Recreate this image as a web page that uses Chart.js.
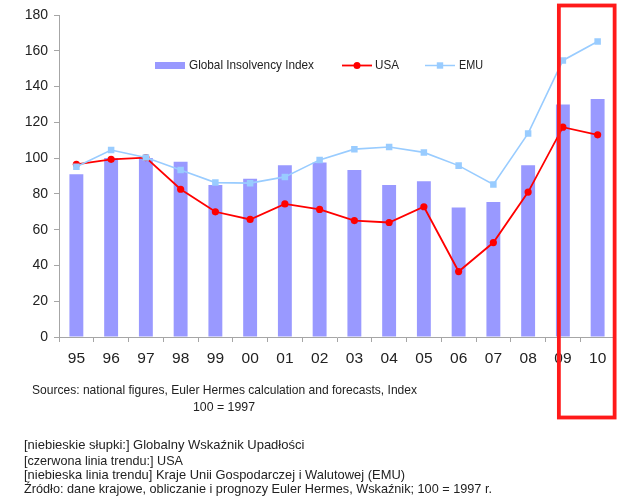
<!DOCTYPE html>
<html>
<head>
<meta charset="utf-8">
<script src="https://cdn.jsdelivr.net/npm/chart.js@4.4.1/dist/chart.umd.min.js"></script>
<style>
  html, body { margin: 0; padding: 0; background: #fff; }
  #wrap { width: 640px; height: 499px; position: relative; }
</style>
</head>
<body>
<div id="wrap"><canvas id="chart" width="640" height="499"></canvas></div>
<script>
// data
var years = ["95","96","97","98","99","00","01","02","03","04","05","06","07","08","09","10"];
var globalIndex = [91, 100, 100, 98, 85, 88.5, 96, 97.5, 93.3, 85, 87, 72.4, 75.5, 96, 130, 133];
var usa = [96.5, 99.3, 100.3, 82.6, 70, 65.7, 74.4, 71.3, 65.1, 64, 72.8, 36.6, 52.8, 81, 117.3, 113];
var emu = [95.2, 104.5, 100.3, 93.3, 86.3, 86, 89.5, 99, 105, 106.2, 103.2, 95.8, 85.3, 113.8, 154.6, 165.2];
var yTicks = [0, 20, 40, 60, 80, 100, 120, 140, 160, 180];

var seriesNames = ["Global Insolvency Index", "USA", "EMU"];
var sourceNote = ["Sources: national figures, Euler Hermes calculation and forecasts, Index", "100 = 1997"];
var polishNote = [
  "[niebieskie słupki:] Globalny Wskaźnik Upadłości",
  "[czerwona linia trendu:] USA",
  "[niebieska linia trendu] Kraje Unii Gospodarczej i Walutowej (EMU)",
  "Źródło: dane krajowe, obliczanie i prognozy Euler Hermes, Wskaźnik; 100 = 1997 r."
];

var barColor = "#9999ff";
var usaColor = "#ff0000";
var emuColor = "#99ccff";
var axisColor = "#a6a6a6";
var textColor = "#222";

// legend inside the plot + notes + red highlight box
var extras = {
  id: "extras",
  afterDraw: function(chart){
    var ctx = chart.ctx;
    var x = chart.scales.x;
    ctx.save();
    ctx.fillStyle = textColor;
    ctx.textBaseline = "middle";
    ctx.textAlign = "left";
    ctx.font = "13px 'Liberation Sans', Arial, sans-serif";

    // legend
    var ly = 65.5;
    ctx.fillStyle = barColor;
    ctx.fillRect(155, ly - 3.5, 30, 7);
    ctx.fillStyle = textColor;
    ctx.fillText(seriesNames[0], 189, ly, 125);

    ctx.strokeStyle = usaColor;
    ctx.lineWidth = 1.8;
    ctx.beginPath(); ctx.moveTo(342, ly); ctx.lineTo(372, ly); ctx.stroke();
    ctx.fillStyle = usaColor;
    ctx.beginPath(); ctx.arc(357, ly, 3.5, 0, Math.PI * 2); ctx.fill();
    ctx.fillStyle = textColor;
    ctx.fillText(seriesNames[1], 375, ly, 24);

    ctx.strokeStyle = emuColor;
    ctx.lineWidth = 1.5;
    ctx.beginPath(); ctx.moveTo(425, ly); ctx.lineTo(455, ly); ctx.stroke();
    ctx.fillStyle = emuColor;
    ctx.fillRect(440 - 3.2, ly - 3.2, 6.4, 6.4);
    ctx.fillStyle = textColor;
    ctx.fillText(seriesNames[2], 459, ly, 24);

    // notes under the chart
    ctx.fillText(sourceNote[0], 32, 390, 385);
    ctx.fillText(sourceNote[1], 193, 407, 62);
    var lineY = [445, 461, 475, 489];
    var widths = [281, 159, 381, 468];
    for (var i = 0; i < polishNote.length; i++) {
      ctx.fillText(polishNote[i], 24, lineY[i], widths[i]);
    }

    // red box around the forecast years
    var left = x.getPixelForValue(14) - 4;
    var right = x.getPixelForValue(15) + 17;
    ctx.strokeStyle = "#ff1a1a";
    ctx.lineWidth = 3.8;
    ctx.strokeRect(left, 5.5, right - left, 412);
    ctx.restore();
  }
};

var ctx = document.getElementById("chart");
var myChart = new Chart(ctx, {
  type: "bar",
  data: {
    labels: years,
    datasets: [
      {
        type: "bar",
        label: seriesNames[0],
        data: globalIndex,
        backgroundColor: barColor,
        borderWidth: 0,
        categoryPercentage: 1,
        barPercentage: 0.4,
        order: 3
      },
      {
        type: "line",
        label: seriesNames[1],
        data: usa,
        borderColor: usaColor,
        backgroundColor: usaColor,
        borderWidth: 1.8,
        pointStyle: "circle",
        pointRadius: 3.6,
        pointBorderWidth: 0,
        tension: 0,
        fill: false,
        order: 2
      },
      {
        type: "line",
        label: seriesNames[2],
        data: emu,
        borderColor: emuColor,
        backgroundColor: emuColor,
        borderWidth: 1.6,
        pointStyle: "rect",
        pointRadius: 4.6,
        pointBorderWidth: 0,
        tension: 0,
        fill: false,
        order: 1
      }
    ]
  },
  options: {
    responsive: false,
    animation: false,
    layout: { padding: { left: 0, top: 15, right: 25, bottom: 0 } },
    plugins: {
      legend: { display: false },
      tooltip: { enabled: false }
    },
    scales: {
      x: {
        offset: true,
        grid: { display: true, offset: true, drawOnChartArea: false, drawTicks: true, tickLength: 5, color: axisColor },
        border: { display: true, color: axisColor, width: 1 },
        ticks: { color: textColor, font: { size: 15.5, family: "'Liberation Sans', Arial, sans-serif" }, padding: 7, maxRotation: 0, autoSkip: false },
        afterFit: function(scale){ scale.height = 162; }
      },
      y: {
        min: 0,
        max: 180,
        afterBuildTicks: function(scale){ scale.ticks = yTicks.map(function(v){ return { value: v }; }); },
        grid: { display: true, drawOnChartArea: false, drawTicks: true, tickLength: 5, color: axisColor },
        border: { display: true, color: axisColor, width: 1 },
        ticks: { color: textColor, font: { size: 14, family: "'Liberation Sans', Arial, sans-serif" }, padding: 6 },
        afterFit: function(scale){ scale.width = 59; }
      }
    }
  },
  plugins: [extras]
});
</script>
</body>
</html>
